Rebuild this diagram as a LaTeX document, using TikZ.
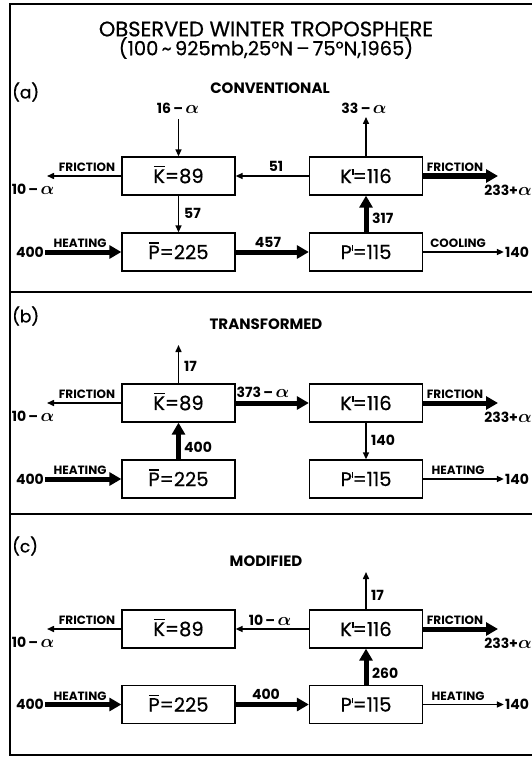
\documentclass[tikz,border=0pt]{standalone}
\usepackage{amsmath}
\usepackage{fontspec}
\setmainfont{Poppins}
\newfontface\medfont{Poppins}[FakeBold=0.6]
\usetikzlibrary{arrows.meta}
\newcommand{\barred}[1]{\ooalign{#1\cr\hidewidth\raisebox{0.8em}{\rule{0.55em}{0.07em}}\hidewidth\cr}}
\newcommand{\prm}{\kern0.01em\raisebox{0.42em}{\rule{0.07em}{0.3em}}\kern-0.04em}
\newcommand{\al}{\scalebox{1.25}{$\boldsymbol{\alpha}$}}
\tikzset{
  frame/.style={line width=1.3pt},
  box/.style={draw, line width=1.3pt, minimum width=113pt, minimum height=38pt, inner sep=0pt, font=\medfont\fontsize{19.5}{19.5}\selectfont},
  thinar/.style={line width=1.5pt, -{Triangle[length=7pt,width=6pt]}},
  thickar/.style={line width=5pt, -{Triangle[length=12pt,width=13pt]}},
  num/.style={inner sep=1pt, font=\bfseries\fontsize{14}{14}\selectfont},
  small/.style={inner sep=0pt, font=\bfseries\fontsize{12}{12}\selectfont},
  title/.style={inner sep=0pt, font=\medfont\fontsize{21}{21}\selectfont},
  subtitle/.style={inner sep=0pt, font=\medfont\fontsize{19.5}{19.5}\selectfont},
  head/.style={inner sep=0pt, font=\bfseries\fontsize{15}{15}\selectfont},
  panel/.style={inner sep=0pt, anchor=west, font=\medfont\fontsize{17}{17}\selectfont}
}
\begin{document}
\begin{tikzpicture}[x=1pt,y=-1pt]
\useasboundingbox (0,0) rectangle (532,762);
% frame
\draw[frame] (532,4) -- (10,4) -- (10,755) -- (532,755);
\draw[frame] (10,292) -- (532,292);
\draw[frame] (10,514) -- (532,514);
% title
\node[title] (t1) at (266,29) {OBSERVED WINTER TROPOSPHERE};
\node[subtitle] (t2) at (266,48) {(100\,\textasciitilde\,925mb,25°N\,–\,75°N,1965)};
% ===== panel (a)
\node[panel] (pa) at (12,92) {(a)};
\node[head] (ha) at (270,88) {CONVENTIONAL};
\node[box] (Kba) at (178.5,176) {\barred{K}=89};
\node[box] (Kpa) at (366,176) {K\prm=116};
\node[box] (Pba) at (178.5,252) {\barred{P}=225};
\node[box] (Ppa) at (366,252) {P\prm=115};
\node[num] (t16a) at (178,108) {16\,–\,\al};
\coordinate (a16) at (178.5,119);
\draw[thinar] (a16) -- (Kba.north);
\node[num] (t33a) at (364,108) {33\,–\,\al};
\coordinate (a33) at (366,117);
\draw[thinar] (Kpa.north) -- (a33);
\coordinate (aFL) at (47,176);
\draw[thinar] (Kba.west) -- (aFL);
\node[small] (fla) at (87,167) {FRICTION};
\node[num] (t10a) at (33,189) {10\,–\,\al};
\draw[thinar] (Kpa.west) -- (Kba.east);
\node[num] (t51a) at (276,166) {51};
\coordinate (aFR) at (498,176);
\draw[thickar] (Kpa.east) -- (aFR);
\node[small] (fra) at (455,167) {FRICTION};
\node[num] (t233a) at (508,190) {233+\al};
\draw[thinar] (Kba.south) -- (Pba.north);
\node[num, anchor=west] (t57a) at (183,213) {57};
\draw[thickar] (Ppa.north) -- (Kpa.south);
\node[num, anchor=west] (t317a) at (371,218) {317};
\node[num] (t400a) at (30,252) {400};
\draw[thickar] (t400a.east) -- (Pba.west);
\node[small] (hta) at (80,243) {HEATING};
\draw[thickar] (Pba.east) -- (Ppa.west);
\node[num] (t457a) at (268,242) {457};
\node[num] (t140a) at (517,252) {140};
\draw[thinar] (Ppa.east) -- (t140a.west);
\node[small] (cla) at (458,243) {COOLING};
% ===== panel (b)
\node[panel] (pb) at (12,316) {(b)};
\node[head] (hb) at (266,324) {TRANSFORMED};
\node[box] (Kbb) at (178.5,403) {\barred{K}=89};
\node[box] (Kpb) at (366,403) {K\prm=116};
\node[box] (Pbb) at (178.5,479) {\barred{P}=225};
\node[box] (Ppb) at (366,479) {P\prm=115};
\coordinate (b17) at (178.5,345);
\draw[thinar] (Kbb.north) -- (b17);
\node[num, anchor=west] (t17b) at (183,366) {17};
\coordinate (bFL) at (47,403);
\draw[thinar] (Kbb.west) -- (bFL);
\node[small] (flb) at (87,394) {FRICTION};
\node[num] (t10b) at (33,416) {10\,–\,\al};
\draw[thickar] (Kbb.east) -- (Kpb.west);
\node[num] (t373b) at (263,392) {373\,–\,\al};
\coordinate (bFR) at (498,403);
\draw[thickar] (Kpb.east) -- (bFR);
\node[small] (frb) at (455,394) {FRICTION};
\node[num] (t233b) at (508,417) {233+\al};
\draw[thickar] (Pbb.north) -- (Kbb.south);
\node[num, anchor=west] (t400bv) at (183,447) {400};
\draw[thinar] (Kpb.south) -- (Ppb.north);
\node[num, anchor=west] (t140bv) at (370,440) {140};
\node[num] (t400b) at (30,479) {400};
\draw[thickar] (t400b.east) -- (Pbb.west);
\node[small] (htb) at (80,470) {HEATING};
\node[num] (t140b) at (517,479) {140};
\draw[thinar] (Ppb.east) -- (t140b.west);
\node[small] (htb2) at (458,470) {HEATING};
% ===== panel (c)
\node[panel] (pc) at (12,546) {(c)};
\node[head] (hc) at (266,561) {MODIFIED};
\node[box] (Kbc) at (178.5,629) {\barred{K}=89};
\node[box] (Kpc) at (366,629) {K\prm=116};
\node[box] (Pbc) at (178.5,704.5) {\barred{P}=225};
\node[box] (Ppc) at (366,704.5) {P\prm=115};
\coordinate (c17) at (366,572);
\draw[thinar] (Kpc.north) -- (c17);
\node[num, anchor=west] (t17c) at (370,595) {17};
\draw[thinar] (Kpc.west) -- (Kbc.east);
\node[num] (t10cm) at (270,620) {10\,–\,\al};
\coordinate (cFL) at (47,629);
\draw[thinar] (Kbc.west) -- (cFL);
\node[small] (flc) at (87,620) {FRICTION};
\node[num] (t10c) at (33,642) {10\,–\,\al};
\coordinate (cFR) at (498,629);
\draw[thickar] (Kpc.east) -- (cFR);
\node[small] (frc) at (455,620) {FRICTION};
\node[num] (t233c) at (508,643) {233+\al};
\draw[thickar] (Ppc.north) -- (Kpc.south);
\node[num, anchor=west] (t260c) at (371,673) {260};
\node[num] (t400c) at (30,704.5) {400};
\draw[thickar] (t400c.east) -- (Pbc.west);
\node[small] (htc) at (80,696) {HEATING};
\draw[thickar] (Pbc.east) -- (Ppc.west);
\node[num] (t400cm) at (266,694) {400};
\node[num] (t140c) at (517,704.5) {140};
\draw[thinar] (Ppc.east) -- (t140c.west);
\node[small] (htc2) at (458,696) {HEATING};
\end{tikzpicture}
\end{document}
